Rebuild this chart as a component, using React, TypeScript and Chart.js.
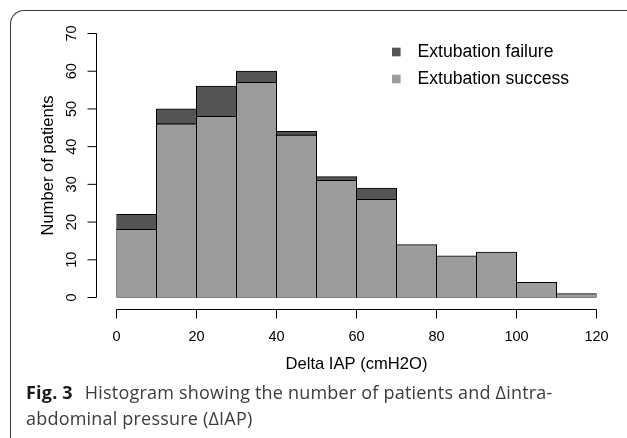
import React, { useEffect, useRef } from "react";
import { Chart, registerables } from "chart.js";

Chart.register(...registerables);

// ---- data ----
const binEdges = [0, 10, 20, 30, 40, 50, 60, 70, 80, 90, 100, 110, 120];
const totalCounts = [22, 50, 56, 60, 44, 32, 29, 14, 11, 12, 4, 1];
const successCounts = [18, 46, 48, 57, 43, 31, 26, 14, 11, 12, 4, 1];
const xTicks = [0, 20, 40, 60, 80, 100, 120];
const yTicks = [0, 10, 20, 30, 40, 50, 60, 70];
const failureLabel = "Extubation failure";
const successLabel = "Extubation success";
const xTitle = "Delta IAP (cmH2O)";
const yTitle = "Number of patients";
const captionBold = "Fig. 3";
const captionLine1 = "Histogram showing the number of patients and \u0394intra-";
const captionLine2 = "abdominal pressure (\u0394IAP)";

const failureColor = "#555555";
const successColor = "#9c9c9c";
const FONT = "'Liberation Sans', Arial, Helvetica, sans-serif";

const rAxesPlugin = {
  id: "rAxes",
  afterDraw(chart: any) {
    const ctx: CanvasRenderingContext2D = chart.ctx;
    const xs = chart.scales.x;
    const ys = chart.scales.y;
    const area = chart.chartArea;
    ctx.save();
    ctx.strokeStyle = "#000";
    ctx.fillStyle = "#000";
    ctx.lineWidth = 1;

    // y axis (R style, offset to the left)
    const yAxisX = 96.5;
    const tickLen = 9;
    ctx.beginPath();
    ctx.moveTo(yAxisX, ys.getPixelForValue(yTicks[0]));
    ctx.lineTo(yAxisX, ys.getPixelForValue(yTicks[yTicks.length - 1]));
    yTicks.forEach((t) => {
      const p = ys.getPixelForValue(t);
      ctx.moveTo(yAxisX, p);
      ctx.lineTo(yAxisX - tickLen, p);
    });
    ctx.stroke();

    ctx.font = `14.5px ${FONT}`;
    ctx.textAlign = "center";
    ctx.textBaseline = "alphabetic";
    yTicks.forEach((t) => {
      const p = ys.getPixelForValue(t);
      ctx.save();
      ctx.translate(75.5, p);
      ctx.rotate(-Math.PI / 2);
      ctx.fillText(String(t), 0, 0);
      ctx.restore();
    });

    // x axis (R style, offset below)
    const xAxisY = 309.5;
    ctx.beginPath();
    ctx.moveTo(xs.getPixelForValue(xTicks[0]), xAxisY);
    ctx.lineTo(xs.getPixelForValue(xTicks[xTicks.length - 1]), xAxisY);
    xTicks.forEach((t) => {
      const p = xs.getPixelForValue(t);
      ctx.moveTo(p, xAxisY);
      ctx.lineTo(p, xAxisY + tickLen);
    });
    ctx.stroke();
    xTicks.forEach((t) => {
      ctx.fillText(String(t), xs.getPixelForValue(t), 340.7);
    });

    // titles
    ctx.font = `16.6px ${FONT}`;
    ctx.fillText(xTitle, (area.left + area.right) / 2, 369.3);
    ctx.save();
    ctx.translate(53, (area.top + area.bottom) / 2);
    ctx.rotate(-Math.PI / 2);
    ctx.fillText(yTitle, 0, 0);
    ctx.restore();

    // legend
    const items = [
      { label: failureLabel, color: failureColor, y: 57 },
      { label: successLabel, color: successColor, y: 84 },
    ];
    ctx.font = `17.6px ${FONT}`;
    ctx.textAlign = "left";
    items.forEach((it) => {
      ctx.fillStyle = it.color;
      ctx.fillRect(392, it.y - 9.3, 8.6, 8.6);
      ctx.fillStyle = "#000";
      ctx.fillText(it.label, 417.5, it.y);
    });
    ctx.restore();
  },
};

export default function App() {
  const canvasRef = useRef<HTMLCanvasElement | null>(null);

  useEffect(() => {
    const canvas = canvasRef.current;
    if (!canvas) return;
    const centers = binEdges.slice(0, -1).map((e, i) => (e + binEdges[i + 1]) / 2);
    const common = {
      borderColor: "#000000",
      borderWidth: 1,
      borderSkipped: false,
      inflateAmount: 0.5,
      barPercentage: 1,
      categoryPercentage: 1,
      stack: "s",
    };
    const chart = new Chart(canvas, {
      type: "bar",
      data: {
        datasets: [
          {
            ...common,
            label: successLabel,
            backgroundColor: successColor,
            data: successCounts.map((v, i) => ({ x: centers[i], y: v })),
          },
          {
            ...common,
            label: failureLabel,
            backgroundColor: failureColor,
            data: totalCounts.map((t, i) => ({
              x: centers[i],
              y: t - successCounts[i] > 0 ? t - successCounts[i] : null,
            })),
          },
        ] as any,
      },
      options: {
        responsive: false,
        devicePixelRatio: 1,
        animation: false,
        layout: { padding: { left: 116.5, right: 30.5, top: 33.5, bottom: 140.5 } },
        scales: {
          x: {
            type: "linear",
            min: binEdges[0],
            max: binEdges[binEdges.length - 1],
            stacked: true,
            offset: false,
            display: false,
          },
          y: {
            type: "linear",
            min: yTicks[0],
            max: yTicks[yTicks.length - 1],
            stacked: true,
            display: false,
          },
        },
        plugins: {
          legend: { display: false },
          tooltip: { enabled: false },
        },
      } as any,
      plugins: [rAxesPlugin],
    });
    return () => chart.destroy();
  }, []);

  return (
    <div
      style={{
        position: "fixed",
        left: 0,
        top: 0,
        width: 627,
        height: 438,
        overflow: "hidden",
        background: "#ffffff",
      }}
    >
      <div
        style={{
          position: "absolute",
          left: 10,
          top: 10,
          width: 660,
          height: 460,
          borderLeft: "1px solid #3a3a3a",
          borderTop: "1px solid #3a3a3a",
          borderTopLeftRadius: 14,
          boxSizing: "border-box",
        }}
      />
      <canvas
        ref={canvasRef}
        width={627}
        height={438}
        style={{ position: "absolute", left: 0, top: 0, display: "block" }}
      />
      <div
        style={{
          position: "absolute",
          left: 26,
          top: 378.5,
          fontFamily: "'Open Sans', 'Noto Sans', sans-serif",
          fontSize: 18,
          lineHeight: "26.5px",
          color: "#3c3c3c",
          whiteSpace: "nowrap",
          letterSpacing: 0.2,
        }}
      >
        <span style={{ fontWeight: 700, color: "#1a1a1a", marginRight: 12 }}>{captionBold}</span>
        {captionLine1}
        <br />
        {captionLine2}
      </div>
    </div>
  );
}
